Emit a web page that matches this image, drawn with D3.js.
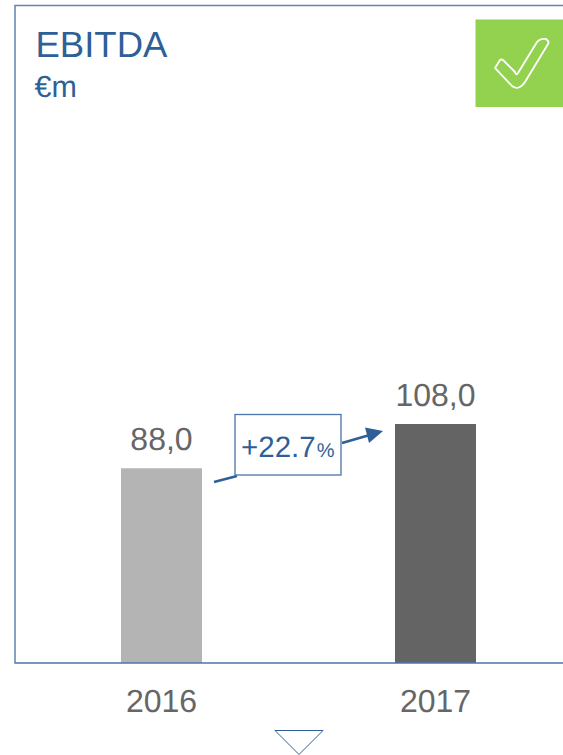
<!DOCTYPE html>
<html>
<head>
<meta charset="utf-8">
<style>
html, body { margin: 0; padding: 0; background: #fff; }
svg { display: block; }
text { font-family: "Liberation Sans", Arial, sans-serif; text-rendering: geometricPrecision; }
.axis path { display: none; }
.axis line { display: none; }
.axis text { font-family: "Liberation Sans", Arial, sans-serif; font-size: 32px; fill: #666; }
.value { font-size: 32px; fill: #666; text-anchor: middle; }
</style>
<script src="https://d3js.org/d3.v7.min.js"></script>
</head>
<body>
<svg width="563" height="755"></svg>
<script>

var years = ["2016", "2017"],
    values = [88, 108],
    valueLabels = ["88,0", "108,0"],
    barColors = ["#b4b4b4", "#646464"],
    blue = "#2f5f97";

var svg = d3.select("svg");

var x = d3.scaleBand()
    .domain(years)
    .range([121, 476])
    .paddingInner(193 / 274)
    .paddingOuter(0);

var y = d3.scaleLinear()
    .domain([0, 108])
    .range([663, 424]);

// frame, open on the right
svg.append("path")
    .attr("d", "M563,5.5H15V663")
    .attr("fill", "none")
    .attr("stroke", "#5f84b0")
    .attr("stroke-width", 1.5);

svg.selectAll(".bar")
    .data(values)
    .enter().append("rect")
    .attr("class", "bar")
    .attr("x", function(d, i) { return x(years[i]); })
    .attr("y", function(d) { return y(d); })
    .attr("width", x.bandwidth())
    .attr("height", function(d) { return y(0) - y(d); })
    .attr("fill", function(d, i) { return barColors[i]; });

svg.append("path")
    .attr("d", "M14.5,663H563")
    .attr("fill", "none")
    .attr("stroke", "#4a75a8")
    .attr("stroke-width", 1.5);

svg.selectAll(".value")
    .data(values)
    .enter().append("text")
    .attr("class", "value")
    .attr("x", function(d, i) { return x(years[i]) + x.bandwidth() / 2; })
    .attr("y", function(d) { return y(d) - 18; })
    .text(function(d, i) { return valueLabels[i]; });

svg.append("g")
    .attr("class", "axis")
    .attr("transform", "translate(0,663)")
    .call(d3.axisBottom(x).tickSize(0).tickPadding(26));

// titles
svg.append("text")
    .attr("x", 35.5).attr("y", 57)
    .attr("font-size", 36.5).attr("fill", blue)
    .text("EBITDA");

svg.append("text")
    .attr("x", 34.5).attr("y", 97)
    .attr("font-size", 30.5).attr("fill", blue)
    .text("€m");

// check badge
svg.append("rect")
    .attr("x", 475.5).attr("y", 19.5)
    .attr("width", 87.5).attr("height", 87.5)
    .attr("fill", "#93d24f");

svg.append("path")
    .attr("d", "M495,68 L500,60 Q501,59 503,60 L515,72 Q516,76 518,73 L537,42 Q540,38 546,39 L548,41 Q549,42 548,44 L525,82 Q519,91 512,86 Z")
    .attr("fill", "none")
    .attr("stroke", "#fff")
    .attr("stroke-width", 1.8)
    .attr("stroke-linejoin", "round");

// growth callout
svg.append("line")
    .attr("x1", 214).attr("y1", 482)
    .attr("x2", 237).attr("y2", 476)
    .attr("stroke", blue).attr("stroke-width", 2.5);

svg.append("rect")
    .attr("x", 235).attr("y", 414.5)
    .attr("width", 106).attr("height", 60.5)
    .attr("fill", "#fff")
    .attr("stroke", "#4a75a8")
    .attr("stroke-width", 1.3);

var growth = svg.append("text")
    .attr("x", 241).attr("y", 457)
    .attr("fill", blue)
    .attr("font-size", 29.5);

growth.append("tspan").text("+22.7");
growth.append("tspan").attr("font-size", 20).attr("dx", 1).text("%");

svg.append("line")
    .attr("x1", 342).attr("y1", 443)
    .attr("x2", 368).attr("y2", 435.5)
    .attr("stroke", blue).attr("stroke-width", 2.5);

svg.append("path")
    .attr("d", "M383,431 L365,427.5 L369,443 Z")
    .attr("fill", blue);

// down marker
svg.append("path")
    .attr("d", "M275,730.5H323L299,754.5Z")
    .attr("fill", "#fff")
    .attr("stroke", blue)
    .attr("stroke-width", 1);

</script>
</body>
</html>
